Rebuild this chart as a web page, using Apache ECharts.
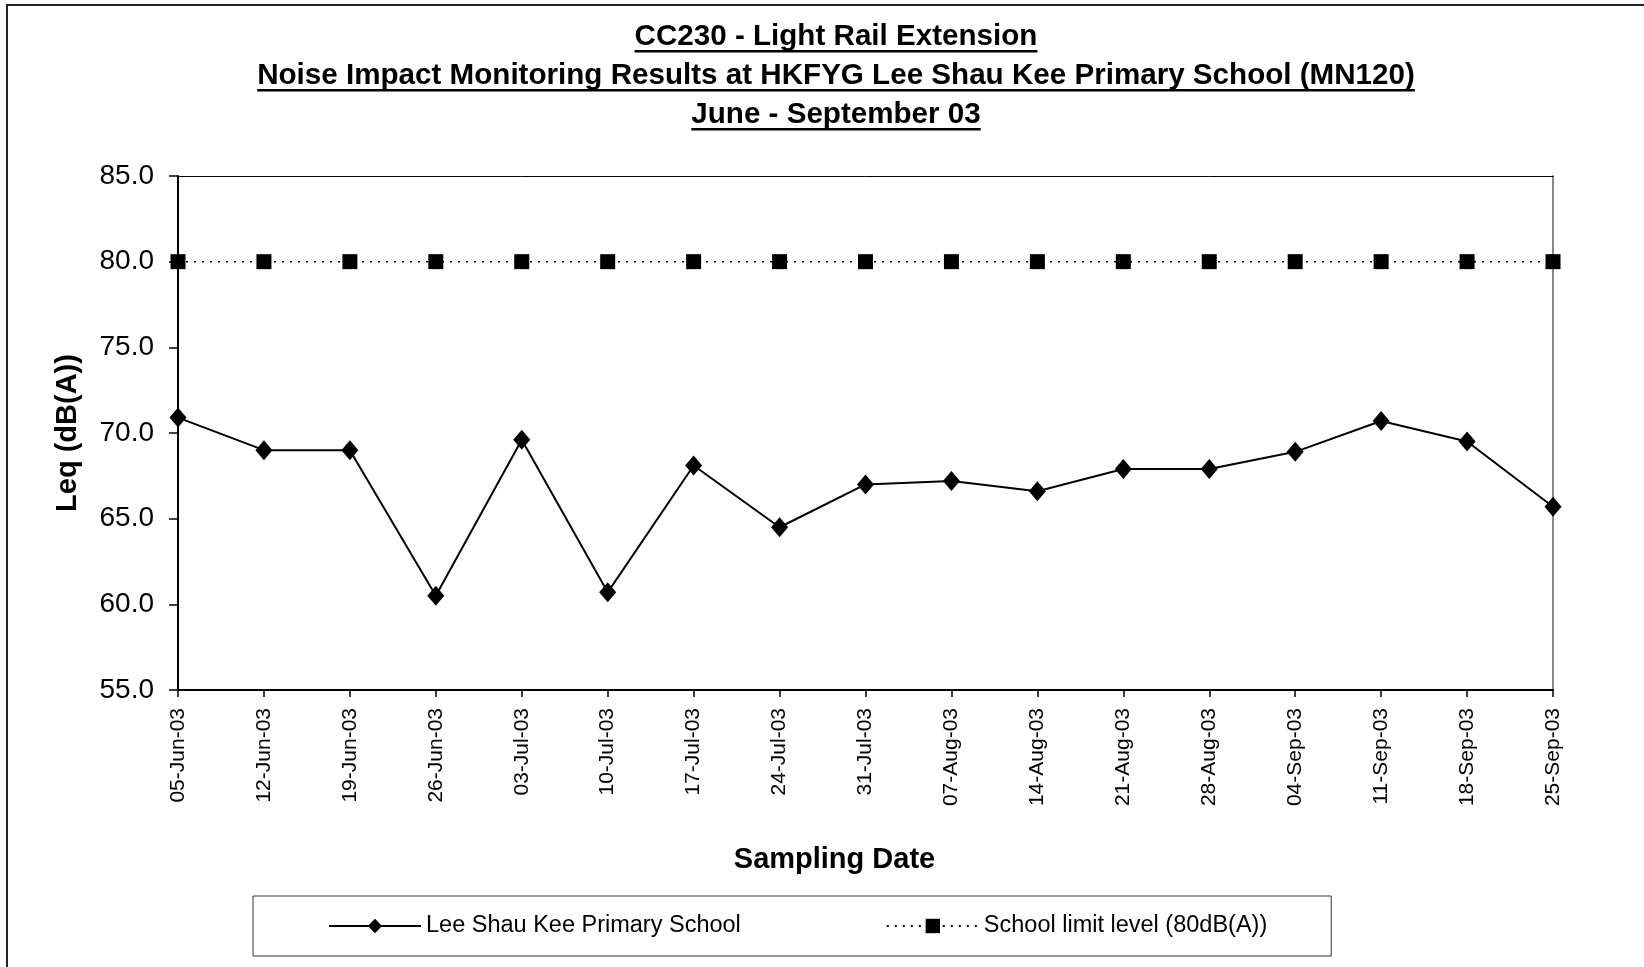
<!DOCTYPE html>
<html>
<head>
<meta charset="utf-8">
<title>CC230 - Noise Impact Monitoring</title>
<script src="https://cdn.jsdelivr.net/npm/echarts@6/dist/echarts.min.js"></script>
<style>
  html,
  body {
    margin: 0;
    padding: 0;
    background: #fff;
  }
  .chart-box {
    width: 1644px;
    height: 967px;
  }
</style>
</head>
<body>
<div id="chartBox" class="chart-box"></div>
<script>
// sampling dates
const dates = ['05-Jun-03', '12-Jun-03', '19-Jun-03', '26-Jun-03', '03-Jul-03', '10-Jul-03', '17-Jul-03', '24-Jul-03', '31-Jul-03', '07-Aug-03', '14-Aug-03', '21-Aug-03', '28-Aug-03', '04-Sep-03', '11-Sep-03', '18-Sep-03', '25-Sep-03'];
// measured Leq
const leq = [70.9, 69.0, 69.0, 60.5, 69.6, 60.7, 68.1, 64.5, 67.0, 67.2, 66.6, 67.9, 67.9, 68.9, 70.7, 69.5, 65.7];
// school limit
const limit = [80, 80, 80, 80, 80, 80, 80, 80, 80, 80, 80, 80, 80, 80, 80, 80, 80];
// y axis range
const yMin = 55;
const yMax = 85;
const yStep = 5;

const titles = [
  'CC230 - Light Rail Extension',
  'Noise Impact Monitoring Results at HKFYG Lee Shau Kee Primary School (MN120)',
  'June - September 03'
];

const FONT = "'Liberation Sans', Arial, sans-serif";

var myChart = null;

// width of a title line, for the underline
const textWidth = (txt, font) => {
  const ctx = document.createElement('canvas').getContext('2d');
  ctx.font = font;
  return ctx.measureText(txt).width;
};

const titleGraphics = () => {
  const cx = 836;
  const ys = [37, 76, 115];
  let out = [];
  titles.forEach((t, i) => {
    const w = textWidth(t, "bold 29.6px 'Liberation Sans'");
    out.push({
      type: 'text',
      x: cx,
      y: ys[i],
      style: {
        text: t,
        fill: '#000',
        font: 'bold 29.6px ' + FONT,
        align: 'center',
        verticalAlign: 'middle'
      }
    });
    out.push({
      type: 'rect',
      shape: { x: cx - w / 2, y: ys[i] + 13, width: w, height: 2.5 },
      style: { fill: '#000' }
    });
  });
  return out;
};

const getOptions = () => {
  return {
    animation: false,
    backgroundColor: '#fff',
    textStyle: { fontFamily: FONT },
    graphic: [
      // outer frame (only top and left edges fall inside the picture)
      {
        type: 'rect',
        shape: { x: 7, y: 5, width: 2000, height: 2000 },
        style: { fill: 'none', stroke: '#222', lineWidth: 2 }
      },
      ...titleGraphics()
    ],
    legend: {
      left: 253,
      top: 896,
      padding: [18, 64, 18, 75],
      itemGap: 145,
      itemWidth: 92,
      itemHeight: 18,
      borderColor: '#333',
      borderWidth: 1,
      textStyle: { fontSize: 23.5, color: '#000', fontFamily: FONT },
      data: ['Lee Shau Kee Primary School', 'School limit level (80dB(A))']
    },
    grid: {
      left: 178,
      right: 91,
      top: 176,
      bottom: 277
    },
    xAxis: [
      {
        type: 'category',
        data: dates,
        boundaryGap: false,
        name: 'Sampling Date',
        nameLocation: 'middle',
        nameGap: 155,
        nameTextStyle: {
          fontSize: 29,
          fontWeight: 'bold',
          color: '#000',
          fontFamily: FONT,
          padding: [0, 62, 0, 0]
        },
        axisLine: { lineStyle: { color: '#000', width: 2 } },
        axisTick: { length: 7, lineStyle: { color: '#000', width: 1.5 } },
        axisLabel: {
          rotate: 90,
          margin: 18,
          interval: 0,
          fontSize: 21,
          color: '#000',
          fontFamily: FONT
        },
        splitLine: { show: false }
      },
      {
        // top edge of plot area
        type: 'category',
        data: dates,
        position: 'top',
        boundaryGap: false,
        axisLine: { lineStyle: { color: '#000', width: 1 } },
        axisTick: { show: false },
        axisLabel: { show: false }
      }
    ],
    yAxis: [
      {
        type: 'value',
        min: yMin,
        max: yMax,
        interval: yStep,
        name: 'Leq (dB(A))',
        nameLocation: 'middle',
        nameRotate: 90,
        nameGap: 96,
        nameTextStyle: {
          fontSize: 29,
          fontWeight: 'bold',
          color: '#000',
          fontFamily: FONT
        },
        axisLine: { show: true, lineStyle: { color: '#000', width: 2 } },
        axisTick: { show: true, length: 9, lineStyle: { color: '#000', width: 1.5 } },
        axisLabel: {
          margin: 24,
          fontSize: 28,
          color: '#000',
          fontFamily: FONT,
          formatter: function (val) {
            return val.toFixed(1);
          }
        },
        splitLine: { show: false }
      },
      {
        // right edge of plot area
        type: 'value',
        min: yMin,
        max: yMax,
        interval: yStep,
        position: 'right',
        axisLine: { show: true, lineStyle: { color: '#888', width: 2 } },
        axisTick: { show: false },
        axisLabel: { show: false },
        splitLine: { show: false }
      }
    ],
    series: [
      {
        name: 'Lee Shau Kee Primary School',
        type: 'line',
        data: leq,
        symbol: 'diamond',
        symbolSize: [17, 20],
        itemStyle: { color: '#000' },
        lineStyle: { color: '#000', width: 2 },
        z: 3
      },
      {
        name: 'School limit level (80dB(A))',
        type: 'line',
        data: limit,
        symbol: 'rect',
        symbolSize: 15,
        itemStyle: { color: '#000' },
        lineStyle: { color: '#000', width: 1.5, type: [2, 6] },
        z: 3
      }
    ]
  };
};

var chartDom = document.getElementById('chartBox');
myChart = echarts.init(chartDom);
myChart.setOption(getOptions(), true);
</script>
</body>
</html>
